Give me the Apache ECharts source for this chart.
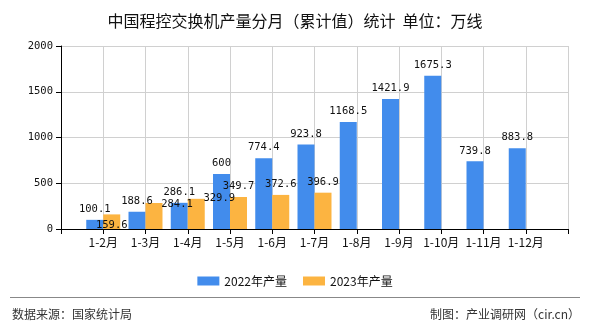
<!DOCTYPE html>
<html>
<head>
<meta charset="utf-8">
<script src="https://cdn.jsdelivr.net/npm/echarts@6/dist/echarts.min.js"></script>
<style>
html,body{margin:0;padding:0;background:#fff;}
#c{width:590px;height:330px;}
</style>
</head>
<body>
<div id="c"></div>
<script>
var categories = ['1-2月','1-3月','1-4月','1-5月','1-6月','1-7月','1-8月','1-9月','1-10月','1-11月','1-12月'];
var values2022 = [100.1, 188.6, 286.1, 600, 774.4, 923.8, 1168.5, 1421.9, 1675.3, 739.8, 883.8];
var values2023 = [159.6, 284.1, 329.9, 349.7, 372.6, 396.9, null, null, null, null, null];
var seriesNames = ['2022年产量', '2023年产量'];
var yTicks = [0, 500, 1000, 1500, 2000];

// label nudges (style only) for overlapping 2023 labels, keyed by category index
var nudge2023 = {0: [0, 21], 1: [23, 12], 2: [23, 10]};

// pad with empty categories at both ends (axis with boundaryGap false)
var cats = [''].concat(categories).concat(['']);
function pad(arr){ return [null].concat(arr).concat([null]); }

function build(arr, nudges){
  return pad(arr).map(function(v, i){
    var k = i - 1;
    if (nudges && nudges[k] && v != null) {
      return {value: v, label: {offset: nudges[k]}};
    }
    return v;
  });
}

var numFont = 'DejaVu Sans Mono';
var chart = echarts.init(document.getElementById('c'), null, {renderer: 'canvas'});
var labelStyle = {show: true, position: 'top', distance: 5, color: '#111', fontSize: 10.5, fontFamily: numFont};
chart.setOption({
  animation: false,
  backgroundColor: '#fff',
  title: {
    text: '中国程控交换机产量分月（累计值）统计  单位：万线',
    left: 'center', top: 8,
    textStyle: {fontSize: 16, fontWeight: 'normal', color: '#111', fontFamily: 'Noto Sans CJK SC'}
  },
  legend: {
    data: seriesNames,
    left: 'center', top: 270,
    itemWidth: 22, itemHeight: 9, itemGap: 16,
    icon: 'rect',
    textStyle: {fontSize: 12, color: '#111', fontFamily: 'Noto Sans CJK SC'}
  },
  grid: {left: 61, right: 22, top: 46, bottom: 101, containLabel: false},
  xAxis: {
    type: 'category',
    data: cats,
    boundaryGap: false,
    axisLine: {lineStyle: {color: '#000', width: 1}},
    axisTick: {show: true, length: 5, lineStyle: {color: '#000'}},
    axisLabel: {color: '#111', fontSize: 12, fontFamily: 'Noto Sans CJK SC', margin: 7, interval: 0},
    splitLine: {show: true, lineStyle: {color: '#d0d0d0'}}
  },
  yAxis: {
    type: 'value',
    min: yTicks[0], max: yTicks[yTicks.length-1], interval: yTicks[1]-yTicks[0],
    axisLine: {show: true, lineStyle: {color: '#000', width: 1}},
    axisTick: {show: true, length: 5, lineStyle: {color: '#000'}},
    axisLabel: {color: '#111', fontSize: 10.5, fontFamily: numFont, margin: 8,
      formatter: function(v){ return String(v); }},
    splitLine: {show: true, lineStyle: {color: '#d0d0d0'}}
  },
  series: [
    {
      name: seriesNames[0], type: 'bar', data: build(values2022),
      barWidth: 17, barGap: '0%',
      itemStyle: {color: '#428CEC'},
      label: labelStyle
    },
    {
      name: seriesNames[1], type: 'bar', data: build(values2023, nudge2023),
      barWidth: 17, barGap: '0%',
      itemStyle: {color: '#FCB441'},
      label: labelStyle
    }
  ],
  graphic: [
    {type: 'line', shape: {x1: 10, y1: 297.5, x2: 580, y2: 297.5}, style: {stroke: '#888', lineWidth: 1}},
    {type: 'text', left: 12, top: 308, style: {text: '数据来源：国家统计局', fontSize: 12, fill: '#333', fontFamily: 'Noto Sans CJK SC'}},
    {type: 'text', right: 10, top: 308, style: {text: '制图：产业调研网（cir.cn）', fontSize: 12, fill: '#333', fontFamily: 'Noto Sans CJK SC'}}
  ]
});
</script>
</body>
</html>
